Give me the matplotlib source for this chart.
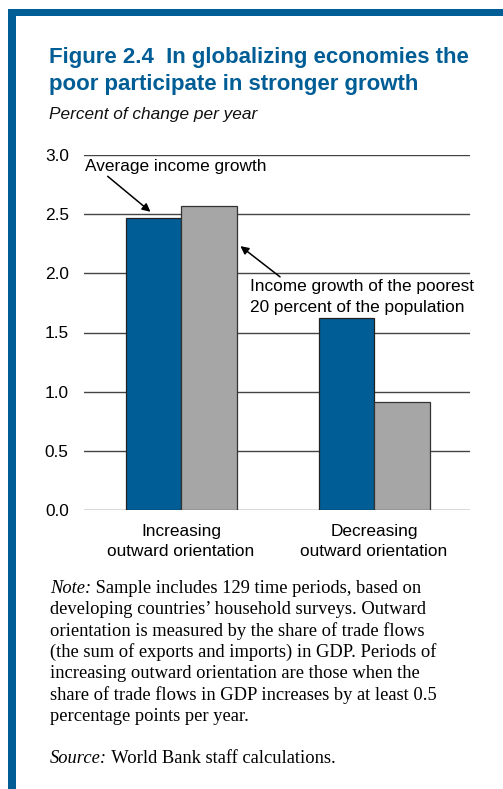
import matplotlib
matplotlib.use('Agg')
import matplotlib.pyplot as plt
from matplotlib.patches import Rectangle
import numpy as np

# values
categories = ['Increasing\noutward orientation', 'Decreasing\noutward orientation']
avg_growth = [2.47, 1.62]
poor_growth = [2.57, 0.91]
yticks = [0.0, 0.5, 1.0, 1.5, 2.0, 2.5, 3.0]

title = 'Figure 2.4  In globalizing economies the\npoor participate in stronger growth'
subtitle = 'Percent of change per year'
note_lines = [
    'developing countries\u2019 household surveys. Outward',
    'orientation is measured by the share of trade flows',
    '(the sum of exports and imports) in GDP. Periods of',
    'increasing outward orientation are those when the',
    'share of trade flows in GDP increases by at least 0.5',
    'percentage points per year.',
]

BLUE = '#005d95'
GRAY = '#a6a6a6'
SANS = 'Liberation Sans'
SERIF = 'Liberation Serif'
FS = 12.4

W, H = 503, 789
fig = plt.figure(figsize=(W / 100, H / 100), dpi=100)
fig.patch.set_facecolor('white')

# blue frame (top band and left band)
fig.patches.append(Rectangle((8 / W, 1 - 16 / H), 1, 7 / H, transform=fig.transFigure,
                             facecolor=BLUE, edgecolor='none', zorder=0))
fig.patches.append(Rectangle((8 / W, 0), 8 / W, 1 - 9 / H, transform=fig.transFigure,
                             facecolor=BLUE, edgecolor='none', zorder=0))

fig.text(49 / W, 1 - 90 / H, title, ha='left', va='baseline', fontsize=16,
         fontweight='bold', color=BLUE, family=SANS, linespacing=1.4)
fig.text(49 / W, 1 - 119 / H, subtitle, ha='left', va='baseline', fontsize=12.4,
         style='italic', family=SANS, color='#111111')

ax = fig.add_axes([84 / W, (H - 510) / H, 386 / W, 355 / H])
x = np.arange(len(categories))
w = 0.2876
ax.bar(x - w / 2, avg_growth, w, color=BLUE, edgecolor='#222222', linewidth=0.9, zorder=3)
ax.bar(x + w / 2, poor_growth, w, color=GRAY, edgecolor='#333333', linewidth=0.9, zorder=3)

ax.set_xlim(-0.5026, 1.497)
ax.set_ylim(0, 3)
ax.set_yticks(yticks)
ax.set_yticklabels([f'{v:.1f}' for v in yticks], family=SANS, fontsize=FS)
ax.set_xticks(x)
ax.set_xticklabels(categories, family=SANS, fontsize=FS, linespacing=1.42)
ax.tick_params(axis='y', length=0, pad=11)
ax.tick_params(axis='x', length=0, pad=10)
for s in ax.spines.values():
    s.set_visible(False)
ax.yaxis.grid(True, color='#444444', linewidth=1.0, zorder=0)
ax.set_axisbelow(True)
ax.patch.set_alpha(0)

# annotations
ax.text(-0.497, 2.90, 'Average income growth', ha='left', va='center',
        family=SANS, fontsize=FS)
ax.annotate('', xy=(x[0] - w * 0.55, avg_growth[0] + 0.05), xytext=(-0.38, 2.82),
            arrowprops=dict(arrowstyle='-|>', color='black', lw=1.1,
                            mutation_scale=12, shrinkA=0, shrinkB=0))
ax.text(0.357, 1.80, 'Income growth of the poorest\n20 percent of the population',
        ha='left', va='center', family=SANS, fontsize=FS, linespacing=1.45)
ax.annotate('', xy=(x[0] + w + 0.02, 2.23), xytext=(0.513, 1.97),
            arrowprops=dict(arrowstyle='-|>', color='black', lw=1.1,
                            mutation_scale=12, shrinkA=0, shrinkB=0))

# note and source
fs = 13.3
t = fig.text(50 / W, 1 - 593 / H, 'Note:', ha='left', va='baseline', fontsize=fs,
             style='italic', family=SERIF)
ax.annotate(' Sample includes 129 time periods, based on', xy=(1, 0), xycoords=t,
            va='bottom', ha='left', fontsize=fs, family=SERIF, annotation_clip=False)
for i, line in enumerate(note_lines):
    fig.text(50 / W, 1 - (593 + 21.3 * (i + 1)) / H, line, ha='left', va='baseline',
             fontsize=fs, family=SERIF)
s = fig.text(50 / W, 1 - 763 / H, 'Source:', ha='left', va='baseline', fontsize=fs,
             style='italic', family=SERIF)
ax.annotate(' World Bank staff calculations.', xy=(1, 0), xycoords=s,
            va='bottom', ha='left', fontsize=fs, family=SERIF, annotation_clip=False)

fig.savefig('out.png', dpi=100)
